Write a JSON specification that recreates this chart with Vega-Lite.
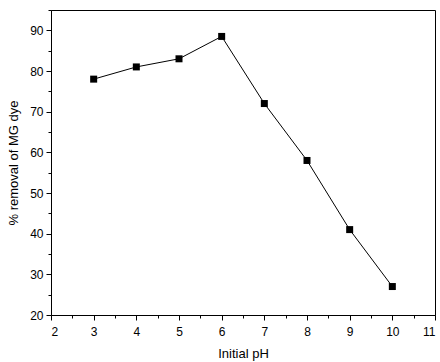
{
  "$schema": "https://vega.github.io/schema/vega-lite/v6.json",
  "autosize": "none",
  "width": 384,
  "height": 305,
  "padding": {"left": 51, "top": 10, "right": 5, "bottom": 47},
  "background": "white",
  "config": {
    "view": {"stroke": "black", "strokeWidth": 1},
    "font": "Liberation Sans",
    "axis": {"grid": false, "domainColor": "black", "tickColor": "black", "labelColor": "black", "titleColor": "black", "labelFont": "Liberation Sans", "titleFont": "Liberation Sans", "titleFontWeight": "normal", "labelFontSize": 12, "titleFontSize": 13}
  },
  "data": {"values": [
    {"pH": 3, "removal": 78},
    {"pH": 4, "removal": 81},
    {"pH": 5, "removal": 83},
    {"pH": 6, "removal": 88.5},
    {"pH": 7, "removal": 72},
    {"pH": 8, "removal": 58},
    {"pH": 9, "removal": 41},
    {"pH": 10, "removal": 27}
  ]},
  "layer": [
    {
      "mark": {"type": "line", "color": "black", "strokeWidth": 1},
      "encoding": {
        "x": {"field": "pH", "type": "quantitative", "scale": {"domain": [2, 11], "nice": false, "zero": false},
          "axis": {"title": "Initial pH", "values": [2,3,4,5,6,7,8,9,10,11], "tickSize": 5, "labelPadding": 6, "titlePadding": 10, "orient": "bottom"}},
        "y": {"field": "removal", "type": "quantitative", "scale": {"domain": [20, 95], "nice": false, "zero": false},
          "axis": {"title": "% removal of MG dye", "values": [20,30,40,50,60,70,80,90], "tickSize": 5, "labelPadding": 3, "titlePadding": 9, "orient": "left"}}
      }
    },
    {
      "mark": {"type": "square", "color": "black", "filled": true, "size": 49, "opacity": 1},
      "encoding": {
        "x": {"field": "pH", "type": "quantitative",
          "axis": {"title": null, "values": [2.5,3.5,4.5,5.5,6.5,7.5,8.5,9.5,10.5], "labels": false, "domain": false, "tickSize": 3, "orient": "bottom"}},
        "y": {"field": "removal", "type": "quantitative",
          "axis": {"title": null, "values": [25,35,45,55,65,75,85,95], "labels": false, "domain": false, "tickSize": 3, "orient": "left"}}
      }
    }
  ],
  "resolve": {"axis": {"x": "independent", "y": "independent"}}
}
